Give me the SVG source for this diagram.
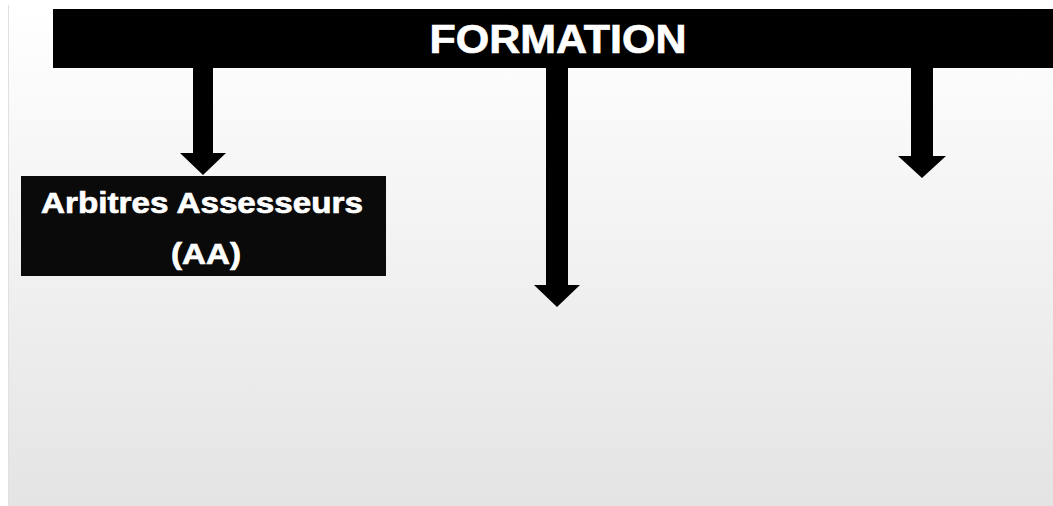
<svg xmlns="http://www.w3.org/2000/svg" width="1053" height="506" viewBox="0 0 1053 506">
  <defs>
    <linearGradient id="bg" x1="0" y1="0" x2="0" y2="1">
      <stop offset="0" stop-color="#ffffff"/>
      <stop offset="1" stop-color="#e4e4e4"/>
    </linearGradient>
    <style>
      .box { fill: #0a0a0a; }
      .bar { fill: #000000; }
      .arrow { fill: #000000; }
      .lbl { fill: #ffffff; stroke: #ffffff; stroke-width: 0.7; font-family: "Liberation Sans", Arial, sans-serif; font-weight: bold; text-anchor: middle; }
    </style>
  </defs>
  <rect x="0" y="0" width="1053" height="506" fill="#ffffff"/>
  <rect x="8" y="5" width="1045" height="501" fill="url(#bg)"/>
  <rect x="8" y="5" width="1" height="501" fill="#e0e0e0"/>

  <g id="formation">
    <rect class="bar" x="53" y="9" width="1000" height="59"/>
    <text class="lbl" x="558" y="53" font-size="40" stroke-width="1.2" textLength="257" lengthAdjust="spacingAndGlyphs">FORMATION</text>
  </g>

  <g id="connectors">
    <polygon class="arrow" points="193,68 213,68 213,153 226,153 203,175 180,153 193,153"/>
    <polygon class="arrow" points="546,68 568,68 568,285 580,285 557,307 534,285 546,285"/>
    <polygon class="arrow" points="911,68 933,68 933,156 946,156 922,178 898,156 911,156"/>
  </g>

  <g id="arbitres-assesseurs">
    <rect class="box" x="21" y="176" width="365" height="100"/>
    <text class="lbl" x="202" y="213" font-size="30" textLength="322" lengthAdjust="spacingAndGlyphs">Arbitres Assesseurs</text>
    <text class="lbl" x="206" y="264" font-size="30" textLength="70" lengthAdjust="spacingAndGlyphs">(AA)</text>
  </g>
</svg>
